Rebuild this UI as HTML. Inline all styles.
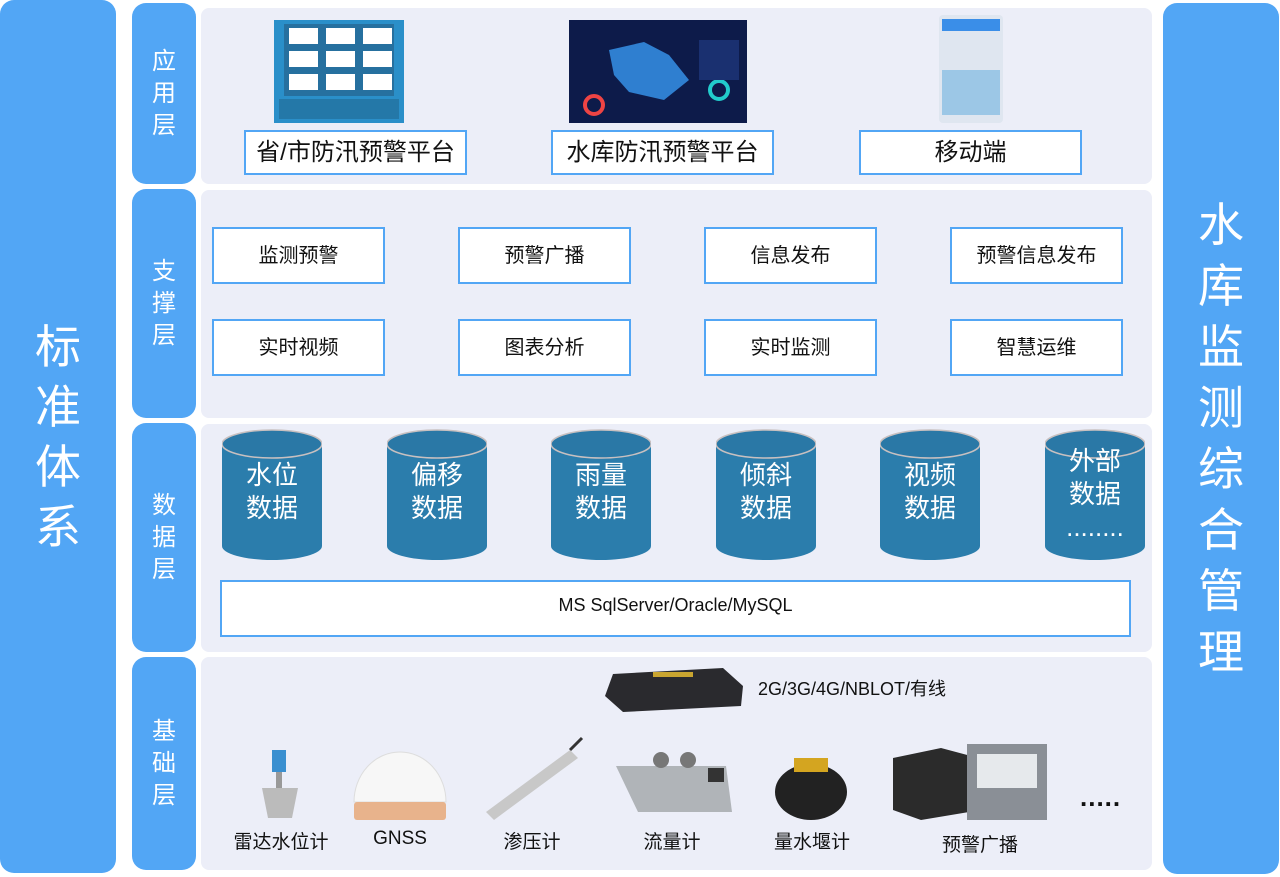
<!DOCTYPE html>
<html><head><meta charset="utf-8"><style>
body{margin:0;width:1280px;height:877px;background:#fff;position:relative;overflow:hidden;font-family:"Liberation Sans","Noto Sans CJK SC",sans-serif}
.a{position:absolute}
.bar{background:#52a6f5;border-radius:14px;color:#fff;display:flex;align-items:center;justify-content:center;text-align:center}
.lbl{background:#52a6f5;border-radius:14px;color:#fff;font-size:24px;line-height:32px;display:flex;align-items:center;justify-content:center;text-align:center;width:64px;left:132px}
.pan{background:#eceef8;border-radius:8px;left:201px;width:951px}
.box{background:#fff;border:2px solid #52a6f5;box-sizing:border-box;display:flex;align-items:center;justify-content:center;color:#111}
.sb{width:173px;height:57px;font-size:20px}
.cyl{width:100px;height:132px}
.cyl .t{position:absolute;left:0;width:100px;top:30px;text-align:center;color:#fff;font-size:26px;line-height:33px}
.cap{position:absolute;font-size:19px;color:#111;transform:translateX(-50%);top:827px;white-space:nowrap}
</style></head><body>
<div class="a bar" style="left:0;top:0;width:116px;height:873px;font-size:46px;line-height:60px">标<br>准<br>体<br>系</div>
<div class="a bar" style="left:1163px;top:3px;width:116px;height:871px;font-size:46px;line-height:61px">水<br>库<br>监<br>测<br>综<br>合<br>管<br>理</div>

<div class="a lbl" style="top:3px;height:181px">应<br>用<br>层</div>
<div class="a lbl" style="top:189px;height:229px">支<br>撑<br>层</div>
<div class="a lbl" style="top:423px;height:229px">数<br>据<br>层</div>
<div class="a lbl" style="top:657px;height:213px">基<br>础<br>层</div>

<div class="a pan" style="top:8px;height:176px"></div>
<div class="a pan" style="top:190px;height:228px"></div>
<div class="a pan" style="top:424px;height:228px"></div>
<div class="a pan" style="top:657px;height:213px"></div>

<svg class="a" style="left:274px;top:20px" width="130" height="103">
<rect width="130" height="103" fill="#2a8fc9"/><rect x="10" y="4" width="110" height="72" fill="#26709f"/>
<g fill="#fff"><rect x="15" y="8" width="29" height="16"/><rect x="52" y="8" width="29" height="16"/><rect x="89" y="8" width="29" height="16"/>
<rect x="15" y="31" width="29" height="16"/><rect x="52" y="31" width="29" height="16"/><rect x="89" y="31" width="29" height="16"/>
<rect x="15" y="54" width="29" height="16"/><rect x="52" y="54" width="29" height="16"/><rect x="89" y="54" width="29" height="16"/></g>
<rect x="5" y="79" width="120" height="20" fill="#2478a8"/></svg>
<div class="a box" style="left:244px;top:130px;width:223px;height:45px;font-size:24px;padding-bottom:6px">省/市防汛预警平台</div>

<svg class="a" style="left:569px;top:20px" width="178" height="103">
<rect width="178" height="103" fill="#0d1b4a"/><path d="M40 30 L75 22 L100 35 L120 60 L95 80 L60 72 L45 55Z" fill="#2f7fd0"/>
<circle cx="25" cy="85" r="9" fill="none" stroke="#e44" stroke-width="4"/><circle cx="150" cy="70" r="9" fill="none" stroke="#2cc" stroke-width="4"/>
<rect x="130" y="20" width="40" height="40" fill="#1a3070"/></svg>
<div class="a box" style="left:551px;top:130px;width:223px;height:45px;font-size:24px;padding-bottom:6px">水库防汛预警平台</div>

<svg class="a" style="left:939px;top:15px" width="64" height="108">
<rect width="64" height="108" rx="4" fill="#dfe6f0"/><rect x="3" y="4" width="58" height="12" fill="#3a8ee8"/><rect x="3" y="55" width="58" height="45" fill="#9cc7e6"/></svg>
<div class="a box" style="left:859px;top:130px;width:223px;height:45px;font-size:24px;padding-bottom:6px">移动端</div>

<div class="a box sb" style="left:212px;top:227px;padding-bottom:4px">监测预警</div>
<div class="a box sb" style="left:458px;top:227px;padding-bottom:4px">预警广播</div>
<div class="a box sb" style="left:704px;top:227px;padding-bottom:4px">信息发布</div>
<div class="a box sb" style="left:950px;top:227px;padding-bottom:4px">预警信息发布</div>
<div class="a box sb" style="left:212px;top:319px;padding-bottom:4px">实时视频</div>
<div class="a box sb" style="left:458px;top:319px;padding-bottom:4px">图表分析</div>
<div class="a box sb" style="left:704px;top:319px;padding-bottom:4px">实时监测</div>
<div class="a box sb" style="left:950px;top:319px;padding-bottom:4px">智慧运维</div>

<svg width="0" height="0" style="position:absolute"><defs><g id="c"><path d="M0 15 V117 A50 14 0 0 0 100 117 V15Z" fill="#2b7dac"/><ellipse cx="50" cy="15" rx="50" ry="14" fill="#2a78a6" stroke="#c8c0c0" stroke-width="1.5"/></g></defs></svg>
<div class="a cyl" style="left:222px;top:429px"><svg width="100" height="132"><use href="#c"/></svg><div class="t">水位<br>数据</div></div>
<div class="a cyl" style="left:387px;top:429px"><svg width="100" height="132"><use href="#c"/></svg><div class="t">偏移<br>数据</div></div>
<div class="a cyl" style="left:551px;top:429px"><svg width="100" height="132"><use href="#c"/></svg><div class="t">雨量<br>数据</div></div>
<div class="a cyl" style="left:716px;top:429px"><svg width="100" height="132"><use href="#c"/></svg><div class="t">倾斜<br>数据</div></div>
<div class="a cyl" style="left:880px;top:429px"><svg width="100" height="132"><use href="#c"/></svg><div class="t">视频<br>数据</div></div>
<div class="a cyl" style="left:1045px;top:429px"><svg width="100" height="132"><use href="#c"/></svg><div class="t" style="top:16px">外部<br>数据<br>........</div></div>
<div class="a box" style="left:220px;top:580px;width:911px;height:57px;font-size:18px;padding-bottom:6px">MS SqlServer/Oracle/MySQL</div>

<svg class="a" style="left:603px;top:666px" width="143" height="48"><path d="M10 8 L120 2 L140 20 L138 40 L20 46 L2 30Z" fill="#2a2a2e"/><rect x="50" y="6" width="40" height="5" fill="#c9a530"/></svg>
<div class="a" style="left:758px;top:675px;font-size:18px;color:#111">2G/3G/4G/NBLOT/有线</div>

<svg class="a" style="left:252px;top:750px" width="60" height="70"><rect x="20" y="0" width="14" height="22" fill="#3a8fd0"/><rect x="24" y="22" width="6" height="16" fill="#999"/><path d="M10 38 H46 L40 68 H16Z" fill="#bbb"/></svg>
<svg class="a" style="left:352px;top:750px" width="96" height="72"><path d="M2 52 A46 50 0 0 1 94 52Z" fill="#f7f7f7" stroke="#ddd"/><rect x="2" y="52" width="92" height="18" rx="3" fill="#e8b38c"/></svg>
<svg class="a" style="left:478px;top:736px" width="110" height="84"><path d="M8 76 L92 14 L100 22 L16 84Z" fill="#c8c8c8"/><path d="M92 14 L104 2" stroke="#333" stroke-width="3"/></svg>
<svg class="a" style="left:616px;top:752px" width="120" height="70"><path d="M0 14 H110 L116 60 H22Z" fill="#b0b4b8"/><circle cx="45" cy="8" r="8" fill="#777"/><circle cx="72" cy="8" r="8" fill="#777"/><rect x="92" y="16" width="16" height="14" fill="#333"/></svg>
<svg class="a" style="left:772px;top:752px" width="78" height="70"><ellipse cx="39" cy="40" rx="36" ry="28" fill="#222"/><rect x="22" y="6" width="34" height="14" fill="#d4a520"/></svg>
<svg class="a" style="left:891px;top:742px" width="162" height="80"><path d="M2 16 L50 6 L80 14 L78 70 L30 78 L2 68Z" fill="#2b2b2b"/><rect x="76" y="2" width="80" height="76" fill="#8a8f96"/><rect x="86" y="12" width="60" height="34" fill="#e6e9ec"/></svg>
<div class="a" style="left:1080px;top:782px;font-size:26px;font-weight:bold;color:#111;letter-spacing:1px">.....</div>

<div class="cap" style="left:281px">雷达水位计</div>
<div class="cap" style="left:400px;top:828px">GNSS</div>
<div class="cap" style="left:532px">渗压计</div>
<div class="cap" style="left:672px">流量计</div>
<div class="cap" style="left:812px">量水堰计</div>
<div class="cap" style="left:980px;top:830px">预警广播</div>
</body></html>
